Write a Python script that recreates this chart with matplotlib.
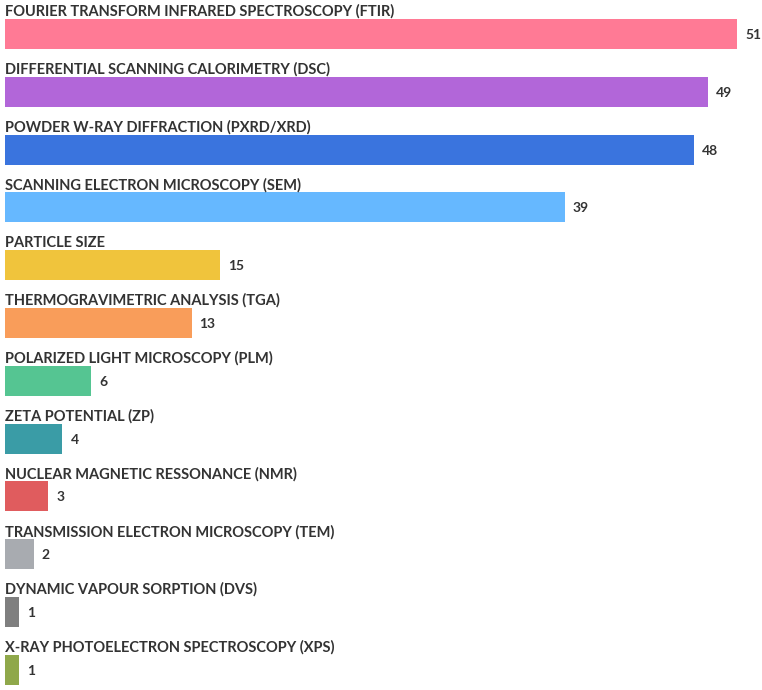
import matplotlib
matplotlib.use("Agg")
from matplotlib import pyplot as plt

labels = [
    "FOURIER TRANSFORM INFRARED SPECTROSCOPY (FTIR)",
    "DIFFERENTIAL SCANNING CALORIMETRY (DSC)",
    "POWDER W-RAY DIFFRACTION (PXRD/XRD)",
    "SCANNING ELECTRON MICROSCOPY (SEM)",
    "PARTICLE SIZE",
    "THERMOGRAVIMETRIC ANALYSIS (TGA)",
    "POLARIZED LIGHT MICROSCOPY (PLM)",
    "ZETA POTENTIAL (ZP)",
    "NUCLEAR MAGNETIC RESSONANCE (NMR)",
    "TRANSMISSION ELECTRON MICROSCOPY (TEM)",
    "DYNAMIC VAPOUR SORPTION (DVS)",
    "X-RAY PHOTOELECTRON SPECTROSCOPY (XPS)",
]
counts = [51, 49, 48, 39, 15, 13, 6, 4, 3, 2, 1, 1]
colors = [
    "#FF7A95", "#B266D9", "#3A74DE", "#66B8FF", "#F0C43C", "#F99D5A",
    "#55C592", "#3A9CA6", "#E05C5E", "#A8ABB0", "#7F7F7F", "#8FA84A",
]

W, H = 762, 690
fig = plt.figure(figsize=(W / 100, H / 100), dpi=100)
ax = fig.add_axes([5 / W, 0, 1 - 5 / W, 1])

px_per_unit = 732 / 51
step = 57.8
ax.set_xlim(0, (W - 5) / px_per_unit)
ax.set_ylim((H - 34) / step, -34 / step)

pos = list(range(len(counts)))
ax.barh(pos, counts, height=30 / step, color=colors)

txt = "#333333"
for i, (lab, v) in enumerate(zip(labels, counts)):
    ax.text(0, i - 18 / step, lab, fontsize=10.5, fontweight="bold",
            family="Lato", color=txt, va="baseline", ha="left")
    ax.text(v + 8 / px_per_unit, i + 1 / step, str(v), fontsize=10,
            fontweight="bold", family="Lato", color=txt, va="center", ha="left")

ax.axis("off")
fig.savefig("out.png", dpi=100)
